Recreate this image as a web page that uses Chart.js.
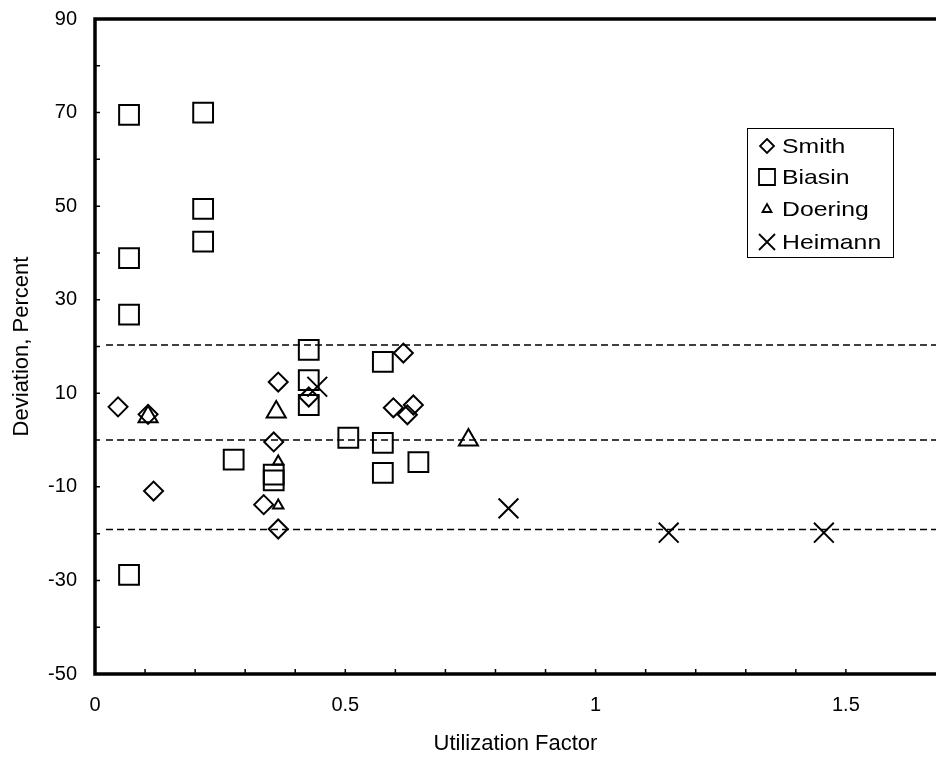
<!DOCTYPE html>
<html>
<head>
<meta charset="utf-8">
<script src="https://cdn.jsdelivr.net/npm/chart.js@4.4.1/dist/chart.umd.min.js"></script>
<style>
  html, body { margin: 0; padding: 0; background: #fff; overflow: hidden; }
  canvas { display: block; }
</style>
</head>
<body>
<canvas id="graph" width="936" height="757"></canvas>
<script>
// values
var smithX = [0.046, 0.106, 0.117, 0.337, 0.357, 0.366, 0.366, 0.427, 0.596, 0.616, 0.624, 0.636];
var smithY = [7.1, 5.5, -10.9, -13.8, -0.4, 12.4, -19.0, 9.2, 6.9, 18.6, 5.4, 7.5];

var biasinX = [0.068, 0.068, 0.068, 0.068, 0.216, 0.216, 0.216, 0.277, 0.357, 0.357, 0.427, 0.427, 0.427, 0.506, 0.575, 0.575, 0.575, 0.646];
var biasinY = [69.5, 38.9, 26.8, -28.8, 70.0, 49.4, 42.4, -4.2, -7.4, -8.6, 19.3, 12.8, 7.5, 0.5, 16.7, -0.6, -7.0, -4.7];

var doeringX = [0.106, 0.362, 0.366, 0.366, 0.746];
var doeringY = [5.0, 6.0, -4.6, -14.0, 0.0];

var heimannX = [0.444, 0.826, 1.146, 1.456];
var heimannY = [11.4, -14.6, -19.8, -19.8];

// dashed reference levels
var refLevels = [20.3, 0, -19.1];
var refFrom = 0.022;
var refTo = 1.68;

var xMin = 0, xMax = 1.68, xStep = 0.1;
var yMin = -50, yMax = 90, yStep = 10;

var seriesNames = ["Smith", "Biasin", "Doering", "Heimann"];

function pts(xs, ys) {
  return xs.map(function (x, i) { return { x: x, y: ys[i] }; });
}

var FONT = "'Liberation Sans', Arial, sans-serif";
var bigTriangles = [0, 1, 4];

var datasets = [
  { label: "Smith", data: pts(smithX, smithY), pointStyle: "rectRot", pointRadius: 9.5, pointBorderWidth: 2 },
  { label: "Biasin", data: pts(biasinX, biasinY), pointStyle: "rect", pointRadius: 14, pointBorderWidth: 2 },
  { label: "Doering", data: pts(doeringX, doeringY), pointStyle: "triangle", pointBorderWidth: 2,
    pointRadius: function (ctx) { return bigTriangles.indexOf(ctx.dataIndex) >= 0 ? 11 : 6; } },
  { label: "Heimann", data: pts(heimannX, heimannY), pointStyle: "crossRot", pointRadius: 14, pointBorderWidth: 2 }
];
datasets.forEach(function (d) {
  d.type = "scatter";
  d.showLine = false;
  d.pointBorderColor = "#000";
  d.pointBackgroundColor = "rgba(0,0,0,0)";
  d.pointHoverRadius = d.pointRadius;
});
refLevels.forEach(function (lv) {
  datasets.push({
    type: "line",
    label: "ref",
    data: [{ x: refFrom, y: lv }, { x: refTo, y: lv }],
    borderColor: "#000",
    borderWidth: 1.5,
    borderDash: [7, 4],
    pointRadius: 0,
    fill: false
  });
});

// frame, inward tick marks and the boxed legend
var framePlugin = {
  id: "frame",
  afterDatasetsDraw: function (chart) {
    var ctx = chart.ctx, a = chart.chartArea;
    var xs = chart.scales.x, ys = chart.scales.y;
    ctx.save();
    ctx.strokeStyle = "#000";
    ctx.lineWidth = 1.5;
    ctx.beginPath();
    xs.ticks.forEach(function (t) {
      var v = t.value;
      if (Math.abs(v / xStep - Math.round(v / xStep)) > 1e-6 || v <= xMin) return;
      var px = xs.getPixelForValue(v);
      ctx.moveTo(px, a.bottom);
      ctx.lineTo(px, a.bottom - 5);
    });
    ys.ticks.forEach(function (t) {
      var v = t.value;
      if (v <= yMin || v >= yMax) return;
      var py = ys.getPixelForValue(v);
      ctx.moveTo(a.left, py);
      ctx.lineTo(a.left + 5, py);
    });
    ctx.stroke();

    ctx.lineWidth = 3.5;
    ctx.beginPath();
    ctx.moveTo(a.right + 2, a.top);
    ctx.lineTo(a.left, a.top);
    ctx.lineTo(a.left, a.bottom);
    ctx.lineTo(a.right + 2, a.bottom);
    ctx.stroke();

    // legend
    var lx = 747, ly = 128, lw = 146, lh = 129;
    ctx.lineWidth = 1;
    ctx.strokeRect(lx + 0.5, ly + 0.5, lw, lh);
    var rows = [146, 177, 209, 242];
    ctx.font = "21px " + FONT;
    ctx.fillStyle = "#000";
    ctx.textBaseline = "middle";
    ctx.textAlign = "left";
    ctx.lineWidth = 1.8;
    seriesNames.forEach(function (name, i) {
      var cx = 767, cy = rows[i];
      ctx.beginPath();
      if (i === 0) {
        ctx.moveTo(cx, cy - 7); ctx.lineTo(cx + 7, cy); ctx.lineTo(cx, cy + 7); ctx.lineTo(cx - 7, cy); ctx.closePath();
      } else if (i === 1) {
        ctx.rect(cx - 8, cy - 8, 16, 16);
      } else if (i === 2) {
        ctx.moveTo(cx, cy - 5); ctx.lineTo(cx + 4.5, cy + 3); ctx.lineTo(cx - 4.5, cy + 3); ctx.closePath();
      } else {
        ctx.moveTo(cx - 8, cy - 8); ctx.lineTo(cx + 8, cy + 8); ctx.moveTo(cx + 8, cy - 8); ctx.lineTo(cx - 8, cy + 8);
      }
      ctx.stroke();
      // the scan is a little wide, so stretch the legend text slightly
      ctx.save();
      ctx.translate(782, cy + 1);
      ctx.scale(1.18, 1);
      ctx.fillText(name, 0, 0);
      ctx.restore();
    });
    ctx.restore();
  }
};

var ctx = document.getElementById("graph").getContext("2d");
new Chart(ctx, {
  data: { datasets: datasets },
  plugins: [framePlugin],
  options: {
    responsive: false,
    animation: false,
    layout: { autoPadding: false, padding: { top: 19, right: 0, bottom: 0, left: 0 } },
    plugins: {
      legend: { display: false },
      tooltip: { enabled: false }
    },
    scales: {
      x: {
        type: "linear",
        min: xMin,
        max: xMax,
        grid: { display: false, drawTicks: false },
        border: { display: false },
        ticks: {
          stepSize: xStep,
          autoSkip: false,
          maxRotation: 0,
          padding: 19,
          color: "#000",
          font: { family: FONT, size: 20 },
          callback: function (v) {
            if (Math.abs(v * 2 - Math.round(v * 2)) > 1e-6) return "";
            return String(Math.round(v * 2) / 2);
          }
        },
        title: {
          display: true,
          text: "Utilization Factor",
          color: "#000",
          font: { family: FONT, size: 22 },
          padding: { top: 0, bottom: 0 }
        },
        afterFit: function (s) {
          s.height = 83;
          s.paddingLeft = 0;
          s.paddingRight = 0;
        }
      },
      y: {
        type: "linear",
        min: yMin,
        max: yMax,
        grid: { display: false, drawTicks: false },
        border: { display: false },
        ticks: {
          stepSize: yStep,
          autoSkip: false,
          padding: 18,
          color: "#000",
          font: { family: FONT, size: 20 },
          callback: function (v) {
            return ((v - yMin) % 20 === 0) ? String(v) : "";
          }
        },
        title: {
          display: true,
          text: "Deviation, Percent",
          color: "#000",
          font: { family: FONT, size: 22 },
          padding: { top: 9, bottom: 0 }
        },
        afterFit: function (s) {
          s.width = 95;
          s.paddingTop = 0;
          s.paddingBottom = 0;
        }
      }
    }
  }
});
</script>
</body>
</html>
